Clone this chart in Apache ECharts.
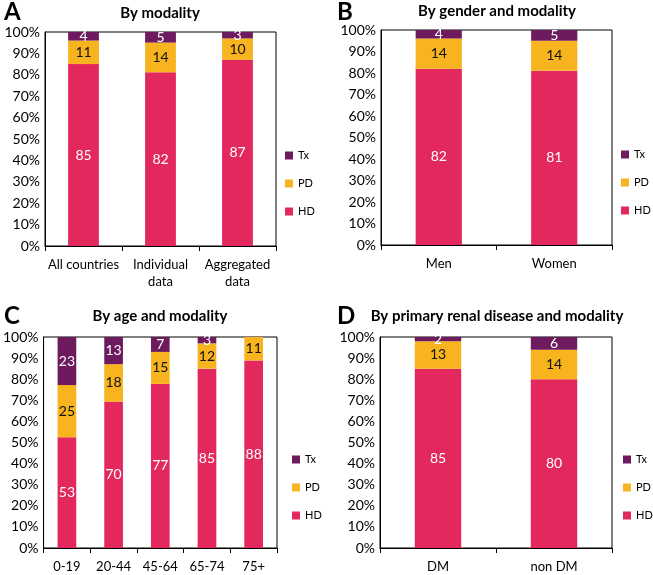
<!DOCTYPE html>
<html>
<head>
<meta charset="utf-8">
<script src="https://cdn.jsdelivr.net/npm/echarts@6/dist/echarts.min.js"></script>
<style>
  html, body { margin: 0; padding: 0; background: #fff; }
  #chart { width: 653px; height: 575px; }
</style>
</head>
<body>
<div id="chart"></div>
<script>
// panel A - by modality
var modCats = ['All countries', 'Individual\ndata', 'Aggregated\ndata'];
var modHD = [85, 82, 87];
var modPD = [11, 14, 10];
var modTx = [4, 5, 3];

// panel B - by gender
var genCats = ['Men', 'Women'];
var genHD = [82, 81];
var genPD = [14, 14];
var genTx = [4, 5];

// panel C - by age
var ageCats = ['0-19', '20-44', '45-64', '65-74', '75+'];
var ageHD = [53, 70, 77, 85, 88];
var agePD = [25, 18, 15, 12, 11];
var ageTx = [23, 13, 7, 3, 0];

// panel D - by primary renal disease
var prdCats = ['DM', 'non DM'];
var prdHD = [85, 80];
var prdPD = [13, 14];
var prdTx = [2, 6];

var colHD = '#e2285c', colPD = '#f7b41e', colTx = '#6e1a5e';
var font = 'Lato';

var panels = [
  { letter: 'A', title: 'By modality', cats: modCats, hd: modHD, pd: modPD, tx: modTx,
    grid: { left: 45, top: 32, width: 231, height: 214 }, titleX: 160, titleY: 6, letterX: 4, letterY: 0,
    legend: { left: 285, top: 150 } },
  { letter: 'B', title: 'By gender and modality', cats: genCats, hd: genHD, pd: genPD, tx: genTx,
    grid: { left: 381, top: 30, width: 231, height: 215 }, titleX: 497, titleY: 4, letterX: 337, letterY: 0,
    legend: { left: 621, top: 149 } },
  { letter: 'C', title: 'By age and modality', cats: ageCats, hd: ageHD, pd: agePD, tx: ageTx,
    grid: { left: 43, top: 337, width: 234, height: 214 }, titleX: 160, titleY: 309, letterX: 4, letterY: 304,
    legend: { left: 292, top: 454 } },
  { letter: 'D', title: 'By primary renal disease and modality', cats: prdCats, hd: prdHD, pd: prdPD, tx: prdTx,
    grid: { left: 380, top: 337, width: 232, height: 214 }, titleX: 497, titleY: 309, letterX: 337, letterY: 304,
    legend: { left: 623, top: 454 } }
];

var titles = [], grids = [], xAxes = [], yAxes = [], legends = [], series = [];

panels.forEach(function (p, i) {
  titles.push({
    text: p.letter, left: p.letterX, top: p.letterY, padding: 0,
    textStyle: { fontFamily: font, fontSize: 24, fontWeight: 'bold', color: '#000' }
  });
  titles.push({
    text: p.title, left: p.titleX, top: p.titleY, padding: 0, textAlign: 'center',
    textStyle: { fontFamily: font, fontSize: 15, fontWeight: 'bold', color: '#000' }
  });
  grids.push({
    left: p.grid.left, top: p.grid.top, width: p.grid.width, height: p.grid.height,
    show: true, borderColor: '#000', borderWidth: 1, backgroundColor: '#fff'
  });
  xAxes.push({
    type: 'category', gridIndex: i, data: p.cats,
    axisLine: { lineStyle: { color: '#000', width: 1 } },
    axisTick: { show: true, length: 5, lineStyle: { color: '#000' } },
    axisLabel: { color: '#000', fontFamily: font, fontSize: 13, margin: 10, lineHeight: 17, interval: 0 }
  });
  yAxes.push({
    type: 'value', gridIndex: i, min: 0, max: 100, interval: 10,
    axisLine: { show: true, lineStyle: { color: '#000', width: 1 } },
    axisTick: { show: false },
    splitLine: { show: false },
    axisLabel: { color: '#000', fontFamily: font, fontSize: 14, margin: 5, formatter: '{value}%' }
  });
  legends.push({
    data: ['Tx', 'PD', 'HD'], orient: 'vertical', left: p.legend.left, top: p.legend.top,
    padding: 0, itemWidth: 8, itemHeight: 8, itemGap: 17, icon: 'rect', selectedMode: false,
    textStyle: { fontFamily: font, fontSize: 11, color: '#000' }
  });

  // 100% stacked: each bar scaled to its own total
  var totals = p.cats.map(function (c, j) { return p.hd[j] + p.pd[j] + p.tx[j]; });
  var parts = [['HD', p.hd, colHD, '#fff'], ['PD', p.pd, colPD, '#111'], ['Tx', p.tx, colTx, '#fff']];
  parts.forEach(function (s) {
    var raw = s[1];
    series.push({
      name: s[0], type: 'bar', stack: 'p' + i, xAxisIndex: i, yAxisIndex: i,
      barWidth: '40%',
      data: raw.map(function (v, j) { return v / totals[j] * 100; }),
      itemStyle: { color: s[2] },
      label: {
        show: true, position: 'inside', color: s[3], fontFamily: font, fontSize: 14,
        formatter: function (pr) { var v = raw[pr.dataIndex]; return v ? String(v) : ''; }
      },
      emphasis: { disabled: true }
    });
  });
});

var chart = echarts.init(document.getElementById('chart'));
chart.setOption({
  animation: false,
  backgroundColor: '#fff',
  title: titles,
  grid: grids,
  xAxis: xAxes,
  yAxis: yAxes,
  legend: legends,
  series: series
});
</script>
</body>
</html>
